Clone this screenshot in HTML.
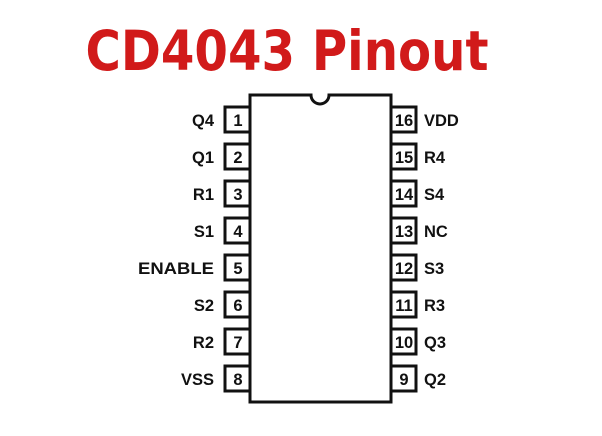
<!DOCTYPE html>
<html><head><style>body{margin:0;background:#fff}svg{display:block}</style></head><body>
<svg width="602" height="436" viewBox="0 0 602 436" xmlns="http://www.w3.org/2000/svg">
<rect width="602" height="436" fill="#fff"/>
<text x="287" y="70" text-anchor="middle" font-family="DejaVu Sans, Liberation Sans, sans-serif" font-weight="bold" font-size="55" fill="#d11a1a" textLength="403" lengthAdjust="spacingAndGlyphs">CD4043 Pinout</text>
<path d="M250 95 H311 A9 9 0 0 0 329 95 H391 V402 H250 Z" fill="#fff" stroke="#111" stroke-width="3"/>
<g fill="#fff" stroke="#111" stroke-width="3">
<rect x="225" y="107" width="25" height="25"/><rect x="225" y="144" width="25" height="25"/>
<rect x="225" y="181" width="25" height="25"/><rect x="225" y="218" width="25" height="25"/>
<rect x="225" y="255" width="25" height="25"/><rect x="225" y="292" width="25" height="25"/>
<rect x="225" y="329" width="25" height="25"/><rect x="225" y="366" width="25" height="25"/>
<rect x="391" y="107" width="25" height="25"/><rect x="391" y="144" width="25" height="25"/>
<rect x="391" y="181" width="25" height="25"/><rect x="391" y="218" width="25" height="25"/>
<rect x="391" y="255" width="25" height="25"/><rect x="391" y="292" width="25" height="25"/>
<rect x="391" y="329" width="25" height="25"/><rect x="391" y="366" width="25" height="25"/>
</g>
<g font-family="Liberation Sans, sans-serif" font-weight="bold" font-size="16.5" fill="#111">
<g text-anchor="middle">
<text x="238" y="126">1</text><text x="238" y="163">2</text><text x="238" y="200">3</text><text x="238" y="237">4</text>
<text x="238" y="274">5</text><text x="238" y="311">6</text><text x="238" y="348">7</text><text x="238" y="385">8</text>
<text x="404" y="126">16</text><text x="404" y="163">15</text><text x="404" y="200">14</text><text x="404" y="237">13</text>
<text x="404" y="274">12</text><text x="404" y="311">11</text><text x="404" y="348">10</text><text x="404" y="385">9</text>
</g>
<g text-anchor="end">
<text x="214" y="126">Q4</text><text x="214" y="163">Q1</text><text x="214" y="200">R1</text><text x="214" y="237">S1</text>
<text x="214" y="274" textLength="76" lengthAdjust="spacingAndGlyphs">ENABLE</text><text x="214" y="311">S2</text><text x="214" y="348">R2</text><text x="214" y="385">VSS</text>
</g>
<text x="424" y="126">VDD</text><text x="424" y="163">R4</text><text x="424" y="200">S4</text><text x="424" y="237">NC</text>
<text x="424" y="274">S3</text><text x="424" y="311">R3</text><text x="424" y="348">Q3</text><text x="424" y="385">Q2</text>
</g>
</svg>
</body></html>
